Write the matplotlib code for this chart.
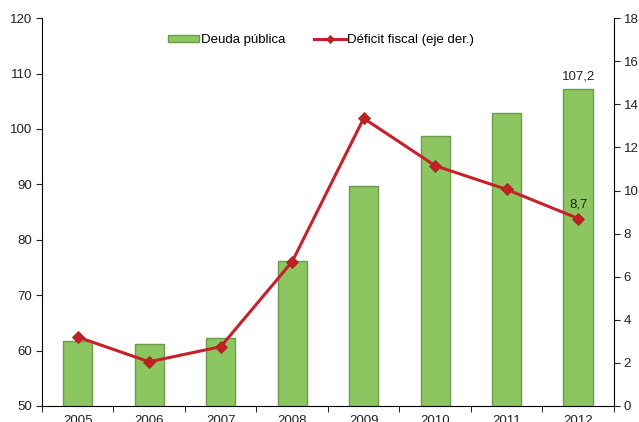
import matplotlib
matplotlib.use('Agg')
import matplotlib.pyplot as plt
from matplotlib.ticker import MultipleLocator, FixedLocator

years = ['2005', '2006', '2007', '2008', '2009', '2010', '2011', '2012']
deuda = [61.7, 61.2, 62.3, 76.2, 89.7, 98.7, 102.9, 107.2]
deficit = [3.2, 2.05, 2.75, 6.7, 13.35, 11.15, 10.05, 8.7]

plt.rcParams['font.family'] = ['Liberation Sans', 'DejaVu Sans']
plt.rcParams['font.size'] = 9.5

fig = plt.figure(figsize=(6.39, 4.22), dpi=100)
ax = fig.add_axes([0.0657, 0.038, 0.895, 0.919])
x = range(len(years))

bars = ax.bar(x, deuda, width=0.41, color='#8bc661', edgecolor='#6e9a4c',
              linewidth=1.0, label='Deuda pública', zorder=2)
ax.set_ylim(50, 120)
ax.set_xlim(-0.5, len(years) - 0.5)
ax.yaxis.set_major_locator(MultipleLocator(10))

ax.set_xticks(list(x))
ax.set_xticklabels(years)
ax.tick_params(axis='x', which='major', length=0, pad=6.5)
ax.xaxis.set_minor_locator(FixedLocator([i + 0.5 for i in range(-1, len(years))]))
ax.tick_params(axis='x', which='minor', length=4, direction='out')
ax.tick_params(axis='y', length=4, direction='out', pad=3, colors='#222222')
ax.tick_params(axis='x', colors='#222222')

for s in ['top', 'right']:
    ax.spines[s].set_visible(False)

ax2 = ax.twinx()
ln, = ax2.plot(x, deficit, color='#c8202a', linewidth=2.2, marker='D',
               markersize=6, markerfacecolor='#c41e26', markeredgecolor='#9c2a1c',
               markeredgewidth=0.6, label='Déficit fiscal (eje der.)', zorder=3)
ax2.set_ylim(0, 18)
ax2.yaxis.set_major_locator(MultipleLocator(2))
ax2.tick_params(axis='y', length=4, direction='out', pad=3, colors='#222222')
for s in ['top', 'left', 'bottom']:
    ax2.spines[s].set_visible(False)

ax.annotate('107,2', (x[-1], deuda[-1]), xytext=(0, 5), textcoords='offset points',
            ha='center', va='bottom', color='#222222')
ax2.annotate('8,7', (x[-1], deficit[-1]), xytext=(0, 6), textcoords='offset points',
             ha='center', va='bottom', color='#222222')

fig.legend(handles=[bars, ln], loc='center', bbox_to_anchor=(0.502, 0.905), ncol=2,
           frameon=False, handlelength=2.4, handleheight=0.5, handletextpad=0.1,
           columnspacing=2.2, markerscale=0.7, fontsize=9.5)

fig.savefig('out.png', dpi=100)
